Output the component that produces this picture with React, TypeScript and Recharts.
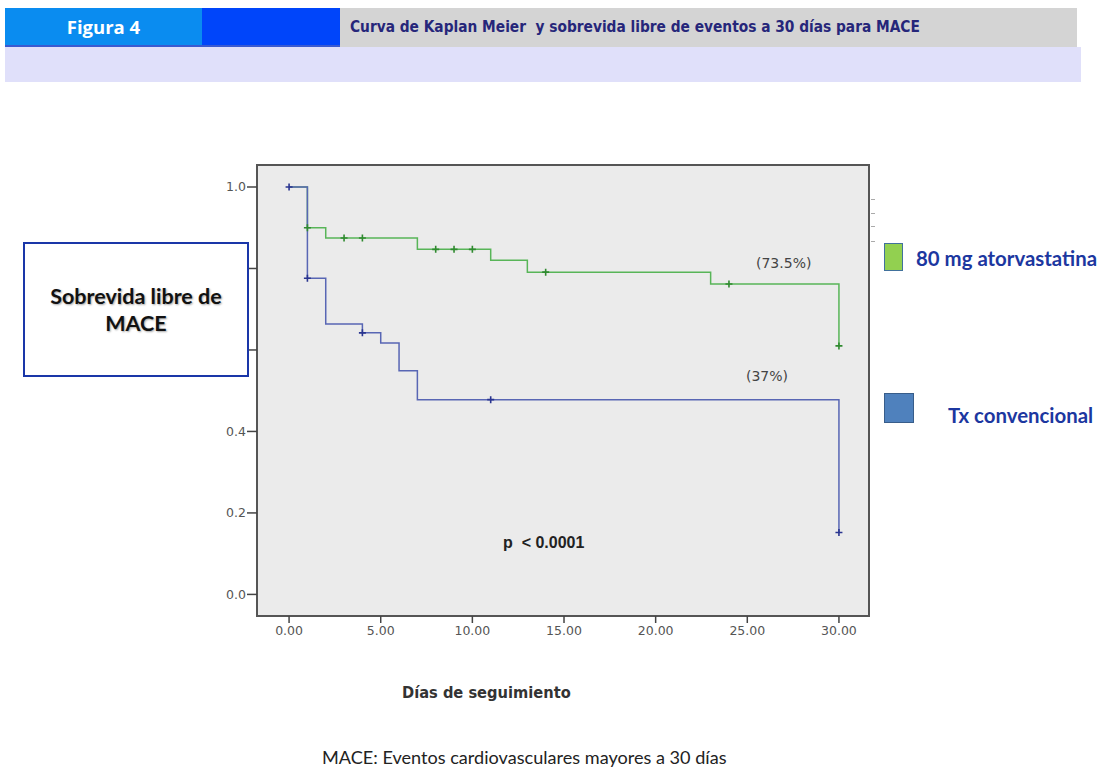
import React from "react";
import { ComposedChart, XAxis, YAxis, Line, Scatter, ReferenceArea } from "recharts";

// curvas de Kaplan-Meier (dia, sobrevida)
const atorvaDias = [0, 1, 2, 7, 11, 13, 23, 30];
const atorvaSobrevida = [1.0, 0.9, 0.875, 0.847, 0.82, 0.791, 0.762, 0.61];
const convDias = [0, 1, 2, 4, 5, 6, 7, 30];
const convSobrevida = [1.0, 0.776, 0.664, 0.642, 0.617, 0.549, 0.478, 0.152];

// censurados
const atorvaCensDias = [1, 3, 4, 8, 9, 10, 14, 24, 30];
const atorvaCensSobrevida = [0.9, 0.875, 0.875, 0.847, 0.847, 0.847, 0.791, 0.762, 0.61];
const convCensDias = [0, 1, 4, 11, 30];
const convCensSobrevida = [1.0, 0.776, 0.642, 0.478, 0.152];

const xTicks = [0, 5, 10, 15, 20, 25, 30];
const yTicks = [0, 0.2, 0.4, 0.6, 0.8, 1.0];

const toRows = (t: number[], s: number[]) => t.map((d, i) => ({ t: d, s: s[i] }));

const atorva = toRows(atorvaDias, atorvaSobrevida);
const conv = toRows(convDias, convSobrevida);
const atorvaCens = toRows(atorvaCensDias, atorvaCensSobrevida);
const convCens = toRows(convCensDias, convCensSobrevida);

const GREEN = "#58b558";
const BLUE = "#5866b4";

const plus = (color: string) => (props: any) => {
  const { cx, cy } = props;
  return (
    <path
      d={`M${cx - 3.5},${cy}H${cx + 3.5}M${cx},${cy - 3.5}V${cy + 3.5}`}
      stroke={color}
      strokeWidth={1.6}
    />
  );
};

const tickStyle = { fontFamily: "DejaVu Sans", fontSize: 12.5, fill: "#555" };

const abs = (l: number, t: number, extra: React.CSSProperties = {}): React.CSSProperties => ({
  position: "absolute",
  left: l,
  top: t,
  ...extra,
});

export default function App() {
  return (
    <div style={{ position: "absolute", left: 0, top: 0, width: 1105, height: 774, background: "#fff", overflow: "hidden" }}>
      {/* encabezado */}
      <div style={abs(5, 8, { width: 1072, height: 39, background: "#d4d4d4" })} />
      <div style={abs(5, 8, { width: 197, height: 38, background: "#0a8cf0" })} />
      <div style={abs(202, 8, { width: 138, height: 38, background: "#0045fa" })} />
      <div style={abs(5, 45, { width: 335, height: 2, background: "#3a5ad0" })} />
      <div style={abs(5, 47, { width: 1076, height: 35, background: "#e0e0fa" })} />
      <div
        style={abs(5, 8, {
          width: 197,
          height: 38,
          lineHeight: "38px",
          textAlign: "center",
          color: "#fff",
          fontFamily: "Open Sans",
          fontWeight: 700,
          fontSize: 18.5,
        })}
      >
        Figura 4
      </div>
      <div
        style={abs(350, 8, {
          height: 38,
          lineHeight: "38px",
          color: "#26267a",
          fontFamily: "DejaVu Sans Condensed",
          fontWeight: 700,
          fontSize: 15.3,
          whiteSpace: "pre",
        })}
      >
        Curva de Kaplan Meier  y sobrevida libre de eventos a 30 días para MACE
      </div>

      <div style={abs(180, 150)}>
        <ComposedChart width={720} height={520} margin={{ top: 15, right: 31, bottom: 24, left: 20 }}>
          <XAxis
            type="number"
            dataKey="t"
            domain={[-1.75, 31.64]}
            ticks={xTicks}
            tickFormatter={(v: number) => v.toFixed(2)}
            axisLine={false}
            tickLine={{ stroke: "#444", strokeWidth: 1.5 }}
            tickSize={7}
            tickMargin={3}
            tick={tickStyle}
            height={30}
          />
          <YAxis
            type="number"
            domain={[-0.053, 1.054]}
            ticks={yTicks}
            tickFormatter={(v: number) => v.toFixed(1)}
            axisLine={false}
            tickLine={{ stroke: "#444", strokeWidth: 1.5 }}
            tickSize={10}
            tickMargin={1}
            tick={tickStyle}
            width={57}
          />
          <ReferenceArea
            x1={-1.75}
            x2={31.64}
            y1={-0.053}
            y2={1.054}
            fill="#ebebeb"
            fillOpacity={1}
            stroke="#555"
            strokeWidth={2}
            ifOverflow="visible"
          />
          <Line data={atorva} dataKey="s" type="stepAfter" stroke={GREEN} strokeWidth={1.5} dot={false} isAnimationActive={false} />
          <Line data={conv} dataKey="s" type="stepAfter" stroke={BLUE} strokeWidth={1.5} dot={false} isAnimationActive={false} />
          <Scatter data={atorvaCens} dataKey="s" shape={plus("#2f8a2f")} isAnimationActive={false} />
          <Scatter data={convCens} dataKey="s" shape={plus("#2a3590")} isAnimationActive={false} />
        </ComposedChart>
      </div>

      {/* anotaciones */}
      <div style={abs(756, 255, { fontFamily: "DejaVu Sans", fontSize: 14, color: "#444" })}>(73.5%)</div>
      <div style={abs(746, 368, { fontFamily: "DejaVu Sans", fontSize: 14, color: "#444" })}>(37%)</div>
      <div style={abs(503, 534, { fontFamily: "Liberation Sans", fontSize: 16, fontWeight: 700, color: "#222", whiteSpace: "pre" })}>
        {"p  < 0.0001"}
      </div>

      {/* marcas sueltas */}
      {[199, 213, 226, 241].map((y) => (
        <div key={y} style={abs(871, y, { width: 4, height: 1, background: "#aaa" })} />
      ))}

      {/* caja eje Y */}
      <div
        style={abs(23, 242, {
          width: 222,
          height: 131,
          border: "2px solid #1a36a8",
          background: "#fff",
          display: "flex",
          alignItems: "center",
          justifyContent: "center",
          textAlign: "center",
          fontFamily: "Lato",
          fontWeight: 700,
          fontSize: 21.5,
          lineHeight: "27px",
          color: "#111",
          textShadow: "1px 1px 2px rgba(0,0,0,0.35)",
        })}
      >
        Sobrevida libre de
        <br />
        MACE
      </div>

      {/* leyenda */}
      <div style={abs(884, 243, { width: 17, height: 26, background: "#92d050", border: "1px solid #41719c" })} />
      <div style={abs(916, 246, { fontFamily: "Lato", fontWeight: 700, fontSize: 20.4, color: "#1c37a0", whiteSpace: "pre" })}>
        80 mg atorvastatina
      </div>
      <div style={abs(884, 393, { width: 28, height: 28, background: "#4f81bd", border: "1px solid #385d8a" })} />
      <div style={abs(948, 403, { fontFamily: "Lato", fontWeight: 700, fontSize: 20.4, color: "#1c37a0", whiteSpace: "pre" })}>
        Tx convencional
      </div>

      <div style={abs(402, 683, { fontFamily: "DejaVu Sans Condensed", fontWeight: 700, fontSize: 16.3, color: "#333" })}>
        Días de seguimiento
      </div>
      <div style={abs(322, 746, { fontFamily: "Lato", fontSize: 18.1, color: "#222", whiteSpace: "pre" })}>
        MACE: Eventos cardiovasculares mayores a 30 días
      </div>
    </div>
  );
}
